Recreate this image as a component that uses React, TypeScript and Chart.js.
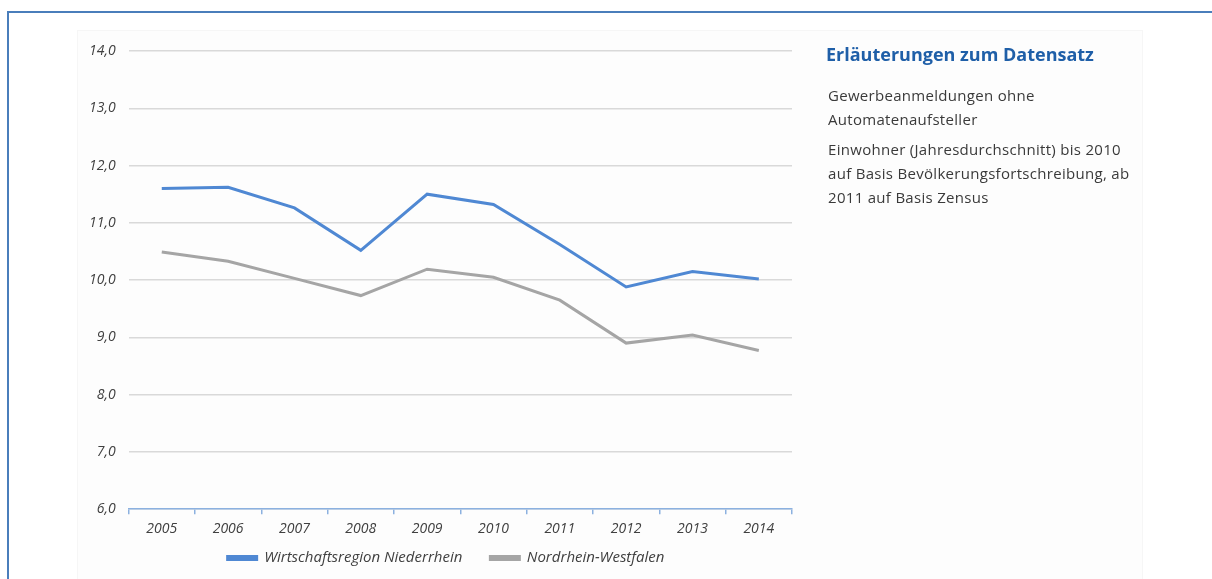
import React, { useEffect, useRef } from "react";
import { Chart, registerables } from "chart.js";

Chart.register(...registerables);

const years = ["2005", "2006", "2007", "2008", "2009", "2010", "2011", "2012", "2013", "2014"];
const niederrhein = [11.6, 11.62, 11.26, 10.52, 11.5, 11.32, 10.62, 9.88, 10.15, 10.02];
const nrw = [10.49, 10.33, 10.03, 9.73, 10.19, 10.05, 9.65, 8.9, 9.04, 8.77];
const seriesNames = ["Wirtschaftsregion Niederrhein", "Nordrhein-Westfalen"];
const yMin = 6;
const yMax = 14;
const yStep = 1;

const panelTitle = "Erläuterungen zum Datensatz";
const panelParagraphs = [
  ["Gewerbeanmeldungen ohne", "Automatenaufsteller"],
  ["Einwohner (Jahresdurchschnitt) bis 2010", "auf Basis Bevölkerungsfortschreibung, ab", "2011 auf Basis Zensus"],
];

const FONT = "'Open Sans', 'Noto Sans', sans-serif";

const legendShift = {
  id: "legendShift",
  afterLayout(chart: any) {
    const l = chart.legend;
    if (!l) return;
    const dy = -20.5;
    const dx = 12;
    l.top += dy;
    l.bottom += dy;
    l.left += dx;
    l.right += dx;
  },
};

export default function App() {
  const canvasRef = useRef<HTMLCanvasElement | null>(null);

  useEffect(() => {
    if (!canvasRef.current) return;
    const chart = new Chart(canvasRef.current, {
      type: "line",
      data: {
        labels: years,
        datasets: [
          {
            label: seriesNames[0],
            data: niederrhein,
            borderColor: "#4f88d3",
            backgroundColor: "#4f88d3",
            borderWidth: 3,
            pointRadius: 0,
            tension: 0,
          },
          {
            label: seriesNames[1],
            data: nrw,
            borderColor: "#a5a5a5",
            backgroundColor: "#a5a5a5",
            borderWidth: 3,
            pointRadius: 0,
            tension: 0,
          },
        ],
      },
      plugins: [legendShift],
      options: {
        animation: false,
        responsive: true,
        maintainAspectRatio: false,
        layout: { padding: { left: 76, right: 38, top: 51, bottom: 0 } },
        plugins: {
          tooltip: { enabled: false },
          legend: {
            position: "bottom",
            labels: {
              boxWidth: 29,
              boxHeight: 3,
              padding: 28,
              color: "#404040",
              font: { family: FONT, size: 15, style: "italic" },
            },
          },
        },
        scales: {
          x: {
            offset: true,
            grid: {
              display: true,
              offset: true,
              drawOnChartArea: false,
              drawTicks: true,
              tickLength: 5,
              color: "#8cb1e0",
              lineWidth: 1.5,
            },
            border: { display: true, color: "#8cb1e0", width: 1.5 },
            ticks: {
              color: "#404040",
              padding: 6,
              font: { family: FONT, size: 14, style: "italic" },
              maxRotation: 0,
            },
          },
          y: {
            min: yMin,
            max: yMax,
            grid: { color: "#d9d9d9", lineWidth: 1.5, drawTicks: false },
            border: { display: false },
            ticks: {
              stepSize: yStep,
              padding: 13,
              color: "#404040",
              font: { family: FONT, size: 14, style: "italic" },
              callback: (v: any) => Number(v).toFixed(1).replace(".", ","),
            },
          },
        },
      },
    });
    return () => chart.destroy();
  }, []);

  return (
    <div
      style={{
        position: "absolute",
        left: 0,
        top: 0,
        width: 1212,
        height: 579,
        overflow: "hidden",
        background: "#ffffff",
        fontFamily: FONT,
      }}
    >
      <div
        style={{
          position: "absolute",
          left: 7,
          top: 11,
          width: 1300,
          height: 700,
          borderTop: "2px solid #4a7ebb",
          borderLeft: "2px solid #4a7ebb",
        }}
      />
      <div
        style={{
          position: "absolute",
          left: 77,
          top: 30,
          width: 1064,
          height: 600,
          background: "#fdfdfd",
          border: "1px solid #f6f6f6",
        }}
      />
      <div style={{ position: "absolute", left: 0, top: 0, width: 830, height: 596 }}>
        <canvas ref={canvasRef} />
      </div>
      <div
        style={{
          position: "absolute",
          left: 826,
          top: 44,
          fontSize: 18,
          lineHeight: "20px",
          fontWeight: 700,
          color: "#1f5fa8",
          whiteSpace: "nowrap",
        }}
      >
        {panelTitle}
      </div>
      <div
        style={{
          position: "absolute",
          left: 828,
          top: 83,
          color: "#3a3a3a",
          fontSize: 15,
          letterSpacing: 0.3,
          lineHeight: "24px",
        }}
      >
        {panelParagraphs.map((p, i) => (
          <div key={i} style={{ marginBottom: 6, whiteSpace: "nowrap" }}>
            {p.map((line, j) => (
              <div key={j}>{line}</div>
            ))}
          </div>
        ))}
      </div>
    </div>
  );
}
